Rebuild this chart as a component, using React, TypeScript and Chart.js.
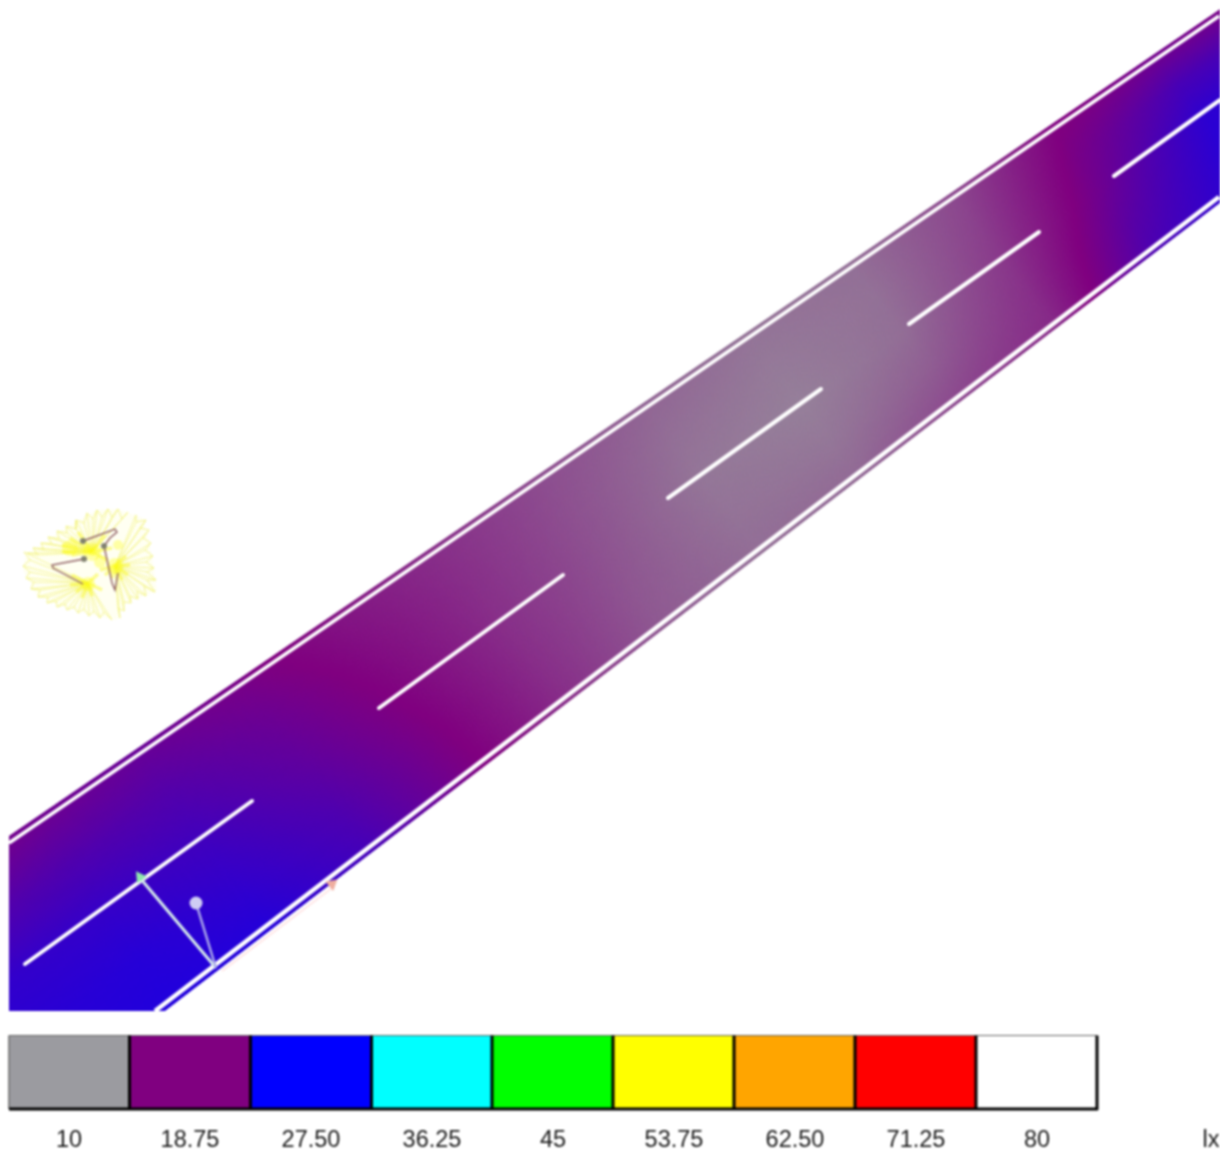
import React, { useEffect, useRef } from "react";
import Chart from "chart.js/auto";

// Legend
const legendLabels = ["10", "18.75", "27.50", "36.25", "45", "53.75", "62.50", "71.25", "80", "lx"];
const legendTickX = [69, 190, 311, 432, 553, 674, 795, 916, 1037, 1211];
const legendEdges = [9, 129.5, 250.5, 371.5, 492, 613, 734, 855, 976, 1097];
const legendLux = [10, 18.75, 27.5, 36.25, 45, 53.75, 62.5, 71.25, 80];
const legendColors = ["#9b9ba0", "#800080", "#0000ff", "#00ffff", "#00ff00", "#ffff00", "#ffa500", "#ff0000", "#ffffff"];
const legendRGB = [[155, 155, 160], [128, 0, 128], [0, 0, 255], [0, 255, 255], [0, 255, 0], [255, 255, 0], [255, 165, 0], [255, 0, 0], [255, 255, 255]];

// Road illuminance (lx): sections along the road, rows from far edge to near edge
const stations = [-100, 0, 100, 200, 300, 400, 500, 600, 700, 800, 900, 1000, 1100, 1200, 1300];
const luxEdgeFar = [19, 19, 19.8, 20.3, 19.2, 17.4, 15.9, 14.3, 13, 12.2, 12.4, 14.5, 18.5, 19.5, 19];
const luxQuarterFar = [22, 21.8, 22, 21.8, 20.2, 18, 16, 14.1, 12.4, 11.8, 12.3, 15, 19.3, 22.5, 22.5];
const luxCentre = [24.2, 24, 23.8, 23, 21, 18.5, 16, 14, 12, 11.5, 12.5, 15.5, 20, 24.3, 25];
const luxQuarterNear = [24.6, 24.6, 24.8, 24, 22, 19, 16.1, 13.8, 12.2, 12, 13.4, 16, 21.2, 24.8, 25.2];
const luxEdgeNear = [25, 25, 25.2, 25, 22.8, 19.3, 16.2, 13.6, 12.5, 12.8, 14.7, 16.4, 22.3, 25, 25.2];
const luxRows = [luxEdgeFar, luxQuarterFar, luxCentre, luxQuarterNear, luxEdgeNear];
const rowFractions = [0, 0.25, 0.5, 0.75, 1];

// Road outline
const farEdge = [[9, 836], [1219, 10]];
const nearEdge = [[155, 1018.5], [1219, 203.5]];
const farStripe = [[9, 843], [1219, 16]];
const nearStripe = [[155, 1011], [1219, 197]];
const centreDashes = [
  [[25, 964], [252, 801]],
  [[379, 708], [563, 575]],
  [[668, 498], [821, 389]],
  [[909, 324], [1039, 232]],
  [[1114, 176], [1220, 100]],
];

// Observer / measurement lines
const crossLine = [[140, 878], [216, 968]];
const poleLine = [[196, 903], [216, 968]];
const poleHead = [[196, 903]];
const greenMark = [[140, 877]];
const pinkLine = [[222, 971], [332, 888]];
const pinkMark = [[332, 884]];

// Luminaire distribution
const lampDots = [[83, 541], [104, 546], [84, 559]];
const lampTraceA = [[83, 541], [115, 529], [117, 532], [110, 538], [104, 546]];
const lampTraceB = [[104, 546], [112, 583], [115, 590], [118, 573]];
const lampTraceC = [[84, 559], [52, 565], [53, 568], [83, 584]];
const lobeCentres = [[88, 583], [115, 566], [92, 552]];
const lobeEnds = [
  [[24, 552], [30, 560], [23, 566], [30, 572], [26, 578], [34, 582], [31, 589], [40, 590], [38, 597], [48, 597], [47, 603], [56, 601], [57, 607], [65, 604], [67, 610], [74, 607], [78, 613], [84, 609], [89, 616], [94, 611], [100, 618], [104, 612], [112, 620]],
  [[120, 618], [118, 608], [124, 611], [124, 602], [131, 603], [130, 596], [138, 599], [137, 591], [146, 596], [144, 586], [155, 592], [147, 580], [156, 580], [147, 572], [154, 568], [146, 562], [153, 556], [145, 550], [151, 543], [143, 538], [149, 530], [140, 528], [146, 520], [136, 522], [136, 515]],
  [[128, 512], [122, 519], [118, 509], [112, 517], [108, 509], [102, 517], [97, 510], [93, 519], [87, 513], [84, 523], [76, 520], [76, 529], [66, 526], [67, 533], [57, 531], [59, 539], [48, 537], [52, 544], [41, 543], [44, 550], [33, 548], [38, 555], [27, 553]],
];
const outline = [[25, 558], [43, 543], [67, 527], [97, 510], [117, 509], [143, 518], [152, 557], [157, 591], [143, 596], [123, 604], [117, 620], [93, 615], [63, 606], [37, 596], [23, 570], [25, 558]];
const glowX = [88, 88, 115, 115, 92, 92, 70, 100, 118];
const glowY = [584, 584, 566, 566, 552, 552, 548, 562, 545];
const glowR = [3, 7, 3, 8, 4, 9, 8, 6, 5];
const coreEnds = [
  [[72, 575], [76, 592], [92, 596], [102, 590], [70, 585], [98, 574], [82, 598]],
  [[100, 570], [130, 565], [128, 575], [122, 580], [105, 575], [126, 556], [112, 578]],
  [[62, 545], [70, 538], [78, 532], [105, 535], [108, 560], [72, 555], [112, 548], [62, 552]],
];

const pts = (a: number[][]) => a.map(([x, y]) => ({ x, y }));
const lerp = (a: number, b: number, t: number) => a + (b - a) * t;
const edgeY = (e: number[][], x: number) => lerp(e[0][1], e[1][1], (x - e[0][0]) / (e[1][0] - e[0][0]));

function luxColor(v: number) {
  let i = 0;
  while (i < legendLux.length - 2 && v > legendLux[i + 1]) i++;
  const t = Math.max(0, Math.min(1, (v - legendLux[i]) / (legendLux[i + 1] - legendLux[i])));
  const c = legendRGB[i], d = legendRGB[i + 1];
  return `rgb(${lerp(c[0], d[0], t) | 0},${lerp(c[1], d[1], t) | 0},${lerp(c[2], d[2], t) | 0})`;
}

// One section across the road at a station
function sectionNode(station: number, frac: number) {
  const f = 1 - (0.3 * station) / 1200;
  const tx = station - 66 * f;
  const bx = station + 76 * f;
  return { x: lerp(tx, bx, frac), y: lerp(edgeY(farEdge, tx), edgeY(nearEdge, bx), frac) };
}

const roadNodes = rowFractions.flatMap((frac, r) =>
  stations.map((s, c) => ({ ...sectionNode(s, frac), lux: luxRows[r][c] }))
);

const roadHeat = {
  id: "roadHeat",
  beforeDatasetsDraw(chart: any) {
    const { ctx, scales } = chart;
    const nodes = chart.data.datasets[0].data;
    const nc = stations.length, nr = rowFractions.length;
    const X = (v: number) => scales.x.getPixelForValue(v);
    const Y = (v: number) => scales.y.getPixelForValue(v);
    const node = (c: number, r: number) => nodes[r * nc + c];
    const subC = 30, subR = 15;
    const at = (c: number, r: number, u: number, v: number) => {
      const a = node(c, r), b = node(c + 1, r), d = node(c, r + 1), e = node(c + 1, r + 1);
      const p = (k: string) => lerp(lerp(a[k], b[k], u), lerp(d[k], e[k], u), v);
      return { x: X(p("x")), y: Y(p("y")), lux: p("lux") };
    };
    ctx.save();
    ctx.beginPath();
    ctx.rect(X(9), Y(0), X(1220) - X(9), Y(1011) - Y(0));
    ctx.clip();
    // road outline
    const extend = (e: number[][], x: number) => [X(x), Y(edgeY(e, x))];
    const corners = [extend(farEdge, -200), extend(farEdge, 1300), extend(nearEdge, 1300), extend(nearEdge, -200)];
    ctx.beginPath();
    corners.forEach(([x, y], i) => (i ? ctx.lineTo(x, y) : ctx.moveTo(x, y)));
    ctx.closePath();
    ctx.clip();
    ctx.lineWidth = 1.5;
    for (let c = 0; c < nc - 1; c++) {
      for (let r = 0; r < nr - 1; r++) {
        for (let i = 0; i < subC; i++) {
          for (let j = 0; j < subR; j++) {
            const u0 = i / subC, u1 = (i + 1) / subC, v0 = j / subR, v1 = (j + 1) / subR;
            const p1 = at(c, r, u0, v0), p2 = at(c, r, u1, v0), p3 = at(c, r, u1, v1), p4 = at(c, r, u0, v1);
            if (Math.max(p1.x, p2.x, p3.x, p4.x) < 0 || Math.min(p1.x, p2.x, p3.x, p4.x) > 1222) continue;
            const col = luxColor(at(c, r, (u0 + u1) / 2, (v0 + v1) / 2).lux);
            ctx.fillStyle = col;
            ctx.strokeStyle = col;
            ctx.beginPath();
            ctx.moveTo(p1.x, p1.y);
            ctx.lineTo(p2.x, p2.y);
            ctx.lineTo(p3.x, p3.y);
            ctx.lineTo(p4.x, p4.y);
            ctx.closePath();
            ctx.fill();
            ctx.stroke();
          }
        }
      }
    }
    ctx.restore();
  },
};

const line = (data: any[], color: string, width: number, extra: any = {}) => ({
  showLine: true,
  data,
  borderColor: color,
  borderWidth: width,
  pointRadius: 0,
  fill: false,
  clip: false as any,
  ...extra,
});
const dots = (data: any[], color: string, radius: any, style: any = "circle", extra: any = {}) => ({
  showLine: false,
  data,
  backgroundColor: color,
  borderWidth: 0,
  pointRadius: radius,
  pointStyle: style,
  clip: false as any,
  ...extra,
});

export default function App() {
  const ref = useRef<HTMLCanvasElement>(null);
  useEffect(() => {
    const datasets: any[] = [];
    datasets.push(dots(roadNodes, "transparent", 0));

    // luminaire
    const rays: any[] = [];
    lobeEnds.forEach((ends, l) => {
      ends.forEach(([x, y]) => {
        rays.push({ x: lobeCentres[l][0], y: lobeCentres[l][1] }, { x, y }, { x: NaN, y: NaN });
      });
    });
    datasets.push(line(pts(outline), "rgba(255,255,200,0.0)", 0, { fill: "shape", backgroundColor: "rgba(255,255,190,0.2)" }));
    datasets.push(line(rays, "rgba(240,240,90,0.6)", 1));
    lobeEnds.forEach((ends) => datasets.push(line(pts(ends), "rgba(240,240,100,0.7)", 1)));
    const core: any[] = [];
    coreEnds.forEach((ends, l) => {
      ends.forEach(([x, y]) => {
        core.push({ x: lobeCentres[l][0], y: lobeCentres[l][1] }, { x, y }, { x: NaN, y: NaN });
      });
    });
    datasets.push(line(core, "rgba(250,250,40,0.5)", 3.5));
    datasets.push(dots(glowX.map((x, i) => ({ x, y: glowY[i] })), "rgba(255,255,0,0.32)", glowR));
    [lampTraceA, lampTraceB, lampTraceC].forEach((t) => datasets.push(line(pts(t), "#8f5f63", 1.4)));
    datasets.push(dots(pts(lampDots), "#80806e", 3));

    // road stripes
    datasets.push(line(pts(farStripe), "#ffffff", 3.5));
    datasets.push(line(pts(nearStripe), "#ffffff", 4.5));
    centreDashes.forEach((d) => datasets.push(line(pts(d), "#ffffff", 4, { borderCapStyle: "round" })));

    // measurement marks
    datasets.push(line(pts(pinkLine), "rgba(255,205,205,0.5)", 2));
    datasets.push(dots(pts(pinkMark), "#efae9f", 7, "triangle", { rotation: 50 }));
    datasets.push(line(pts(crossLine), "#d5eaea", 3));
    datasets.push(line(pts(poleLine), "#aaa6ea", 2.5));
    datasets.push(dots(pts(poleHead), "#cfcdf4", 6.5));
    datasets.push(dots(pts(greenMark), "#8fe6ad", 7, "triangle", { rotation: -35 }));

    // legend swatches
    legendColors.forEach((c, i) => {
      datasets.push(
        line([{ x: legendEdges[i], y: 1036 }, { x: legendEdges[i + 1], y: 1036 }], "transparent", 0, {
          fill: { value: 1109 },
          backgroundColor: c,
        })
      );
    });
    datasets.push(line([{ x: 9, y: 1035.5 }, { x: 1097, y: 1035.5 }], "#666666", 1));
    datasets.push(line([{ x: 9, y: 1035.5 }, { x: 9, y: 1109 }], "#777777", 1));
    legendEdges.slice(1).forEach((x) =>
      datasets.push(line([{ x, y: 1035.5 }, { x, y: 1110 }], "#000000", 3))
    );
    datasets.push(line([{ x: 9, y: 1109 }, { x: 1098, y: 1109 }], "#000000", 3));

    // later entries are painted on top
    datasets.forEach((d, i) => {
      d.order = -i;
    });

    const chart = new Chart(ref.current as HTMLCanvasElement, {
      type: "scatter",
      data: { datasets },
      plugins: [roadHeat],
      options: {
        responsive: false,
        animation: false,
        layout: { padding: 0, autoPadding: false },
        plugins: { legend: { display: false }, tooltip: { enabled: false } },
        scales: {
          x: {
            type: "linear",
            min: 0,
            max: 1220,
            grid: { display: false },
            border: { display: false },
            afterBuildTicks: (s: any) => {
              s.ticks = legendTickX.map((value) => ({ value }));
            },
            afterFit: (s: any) => {
              s.height = 40;
              s.paddingLeft = 0;
              s.paddingRight = 0;
            },
            ticks: {
              autoSkip: false,
              maxRotation: 0,
              padding: 8,
              color: "#1a1a1a",
              font: { family: "'Liberation Sans', Arial, sans-serif", size: 23.5 },
              callback: (v: any) => legendLabels[legendTickX.indexOf(Number(v))] ?? "",
            },
          },
          y: { type: "linear", display: false, min: 0, max: 1110, reverse: true },
        },
      } as any,
    });
    return () => chart.destroy();
  }, []);
  return (
    <div style={{ position: "absolute", left: 0, top: 0, width: 1220, height: 1150, background: "#fff" }}>
      <canvas ref={ref} width={1220} height={1150} style={{ display: "block", filter: "blur(0.8px)" }} />
    </div>
  );
}
